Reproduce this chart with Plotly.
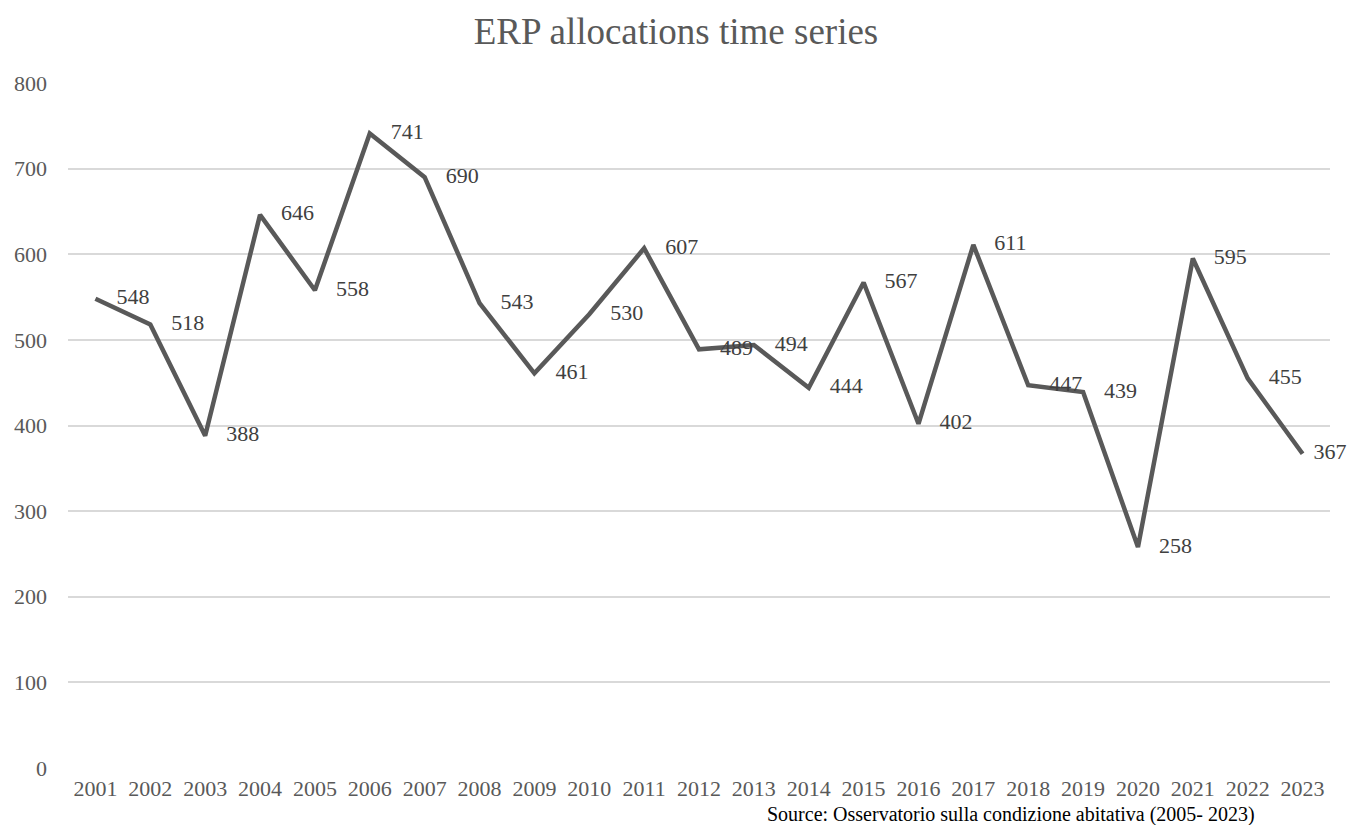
import plotly.graph_objects as go

years = [str(y) for y in range(2001, 2024)]
allocations = [548, 518, 388, 646, 558, 741, 690, 543, 461, 530, 607, 489,
               494, 444, 567, 402, 611, 447, 439, 258, 595, 455, 367]
y_ticks = [0, 100, 200, 300, 400, 500, 600, 700, 800]

SERIF = "Liberation Serif, Times New Roman, serif"
GREY = "#595959"

# invisible markers set the gap between each point and its value label;
# the last one is smaller so its label stays inside the figure
label_gap = [32] * (len(allocations) - 1) + [16]

fig = go.Figure()
fig.add_trace(go.Scatter(
    x=years,
    y=allocations,
    mode="lines+markers+text",
    line=dict(color=GREY, width=4.5),
    marker=dict(size=label_gap, color="rgba(0,0,0,0)",
                line=dict(width=0, color="rgba(0,0,0,0)")),
    text=[str(v) for v in allocations],
    textposition="middle right",
    textfont=dict(family=SERIF, size=22, color="#404040"),
    cliponaxis=False,
    hoverinfo="x+y",
))

fig.update_layout(
    width=1352,
    height=825,
    paper_bgcolor="white",
    plot_bgcolor="white",
    margin=dict(l=68, r=22, t=83, b=57),
    showlegend=False,
    title=dict(
        text="ERP allocations time series",
        x=0.5,
        xref="container",
        xanchor="center",
        y=0.962,
        yanchor="middle",
        font=dict(family=SERIF, size=37, color=GREY),
    ),
    xaxis=dict(
        type="category",
        range=[-0.5, 22.5],
        showgrid=False,
        showline=False,
        zeroline=False,
        ticks="",
        ticklabelstandoff=5,
        tickfont=dict(family=SERIF, size=22, color=GREY),
    ),
    yaxis=dict(
        range=[0, 800],
        tickvals=y_ticks,
        showgrid=True,
        gridcolor="#d9d9d9",
        gridwidth=1.5,
        zeroline=False,
        showline=False,
        ticks="",
        ticklabelstandoff=20,
        tickfont=dict(family=SERIF, size=22, color=GREY),
    ),
    annotations=[dict(
        text="Source: Osservatorio sulla condizione abitativa (2005- 2023)",
        xref="paper", yref="paper",
        x=0.942, y=-0.048,
        xanchor="right", yanchor="top",
        showarrow=False,
        font=dict(family=SERIF, size=20, color="black"),
    )],
)

fig.write_html("out.html")
